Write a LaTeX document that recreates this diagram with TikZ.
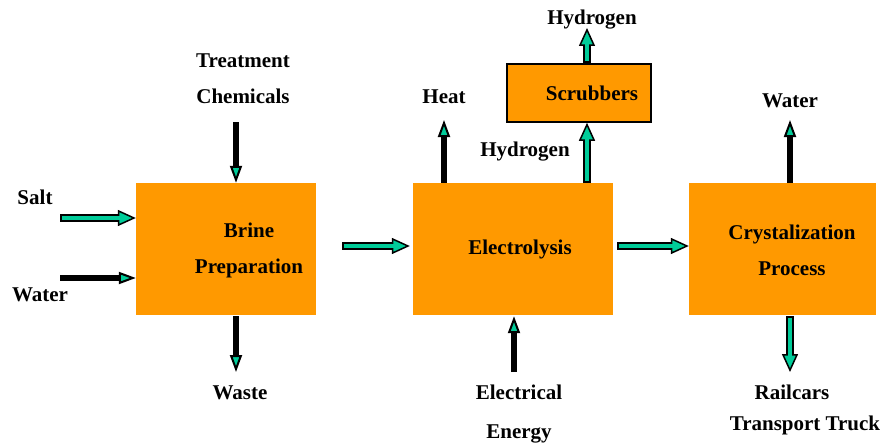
\documentclass[tikz,border=0pt]{standalone}
\usepackage{fontspec}
\setmainfont{Liberation Serif}
\usetikzlibrary{arrows.meta,positioning,calc}

\definecolor{boxorange}{RGB}{255,153,0}
\definecolor{flowteal}{RGB}{0,204,153}

\tikzset{
    procbox/.style={rectangle, fill=boxorange, inner sep=0pt},
    lbl/.style={font=\bfseries\fontsize{21}{36}\selectfont, align=center, inner sep=0pt},
    blackflow/.style={line width=6pt, black,
        -{Triangle[length=17pt, width=12pt, fill=flowteal, line width=2pt]}},
    tealflow/.style={line width=8pt, black,
        -{Triangle[length=18pt, width=16pt, fill=flowteal, line width=1.5pt]},
        postaction={draw=flowteal, line width=4pt, -, shorten >=13pt, shorten <=2pt}},
}

\begin{document}
\begin{tikzpicture}[x=1pt, y=-1pt]
    \useasboundingbox (0,0) rectangle (884,444);

    % Process boxes
    \node[procbox, minimum width=180pt, minimum height=132pt] (brine) at (226,249) {};
    \node[procbox, minimum width=200pt, minimum height=132pt] (electro) at (513,249) {};
    \node[procbox, minimum width=187pt, minimum height=132pt] (crystal) at (782.5,249) {};
    \node[procbox, draw=black, line width=1.5pt, minimum width=144pt, minimum height=58pt] (scrub) at (579,93) {};

    % Box texts
    \node[lbl] (brinetxt) at (249,250) {Brine\\Preparation};
    \node[lbl] (electrotxt) at (520,249) {Electrolysis};
    \node[lbl] (crystaltxt) at (792,250) {Crystalization\\Process};
    \node[lbl] (scrubtxt) at (592,93) {Scrubbers};

    % Outside labels
    \node[lbl] (salt) at (35,197) {Salt};
    \node[lbl] (waterin) at (40,295) {Water};
    \node[lbl] (chem) at (243,79) {Treatment\\Chemicals};
    \node[lbl] (waste) at (240,393) {Waste};
    \node[lbl] (heat) at (444,97) {Heat};
    \node[lbl] (hydro) at (525,152) {Hydrogen};
    \node[lbl] (hydrotop) at (592,20) {Hydrogen};
    \node[lbl, font=\bfseries\fontsize{21}{39}\selectfont] (energy) at (519,414) {Electrical\\Energy};
    \node[lbl] (waterout) at (790,101) {Water};
    \node[lbl, font=\bfseries\fontsize{21}{31}\selectfont] (railcars) at (805,410) {\hspace*{-26pt}Railcars\\Transport Truck};

    % Free ends of the arrows
    \coordinate (saltin) at (60,218);
    \coordinate (waterfrom) at (60,278);
    \coordinate (chemfrom) at (236,122);
    \coordinate (wasteto) at (236,372);
    \coordinate (b2e) at (342,246);
    \coordinate (heatto) at (444,120);
    \coordinate (energyfrom) at (514,372);
    \coordinate (e2c) at (617,246);
    \coordinate (hydrofrom) at (587,183);
    \coordinate (hydroto) at (587,28);
    \coordinate (waterto) at (790,120);
    \coordinate (railto) at (790,372);

    % Teal arrows
    \draw[tealflow] (saltin) -- (saltin -| brine.west);
    \draw[tealflow] (b2e) -- ($(b2e -| electro.west)+(-3,0)$);
    \draw[tealflow] (e2c) -- (e2c -| crystal.west);
    \draw[tealflow] (hydrofrom) -- (hydrofrom |- scrub.south);
    \draw[tealflow] (hydrofrom |- scrub.north) -- (hydroto);
    \draw[tealflow] ($(railto |- crystal.south)+(0,1)$) -- (railto);

    % Black arrows
    \draw[blackflow] (waterfrom) -- (waterfrom -| brine.west);
    \draw[blackflow] (chemfrom) -- (chemfrom |- brine.north);
    \draw[blackflow] ($(wasteto |- brine.south)+(0,1)$) -- (wasteto);
    \draw[blackflow] (heatto |- electro.north) -- (heatto);
    \draw[blackflow] (energyfrom) -- ($(energyfrom |- electro.south)+(0,1)$);
    \draw[blackflow] (waterto |- crystal.north) -- (waterto);
\end{tikzpicture}
\end{document}
